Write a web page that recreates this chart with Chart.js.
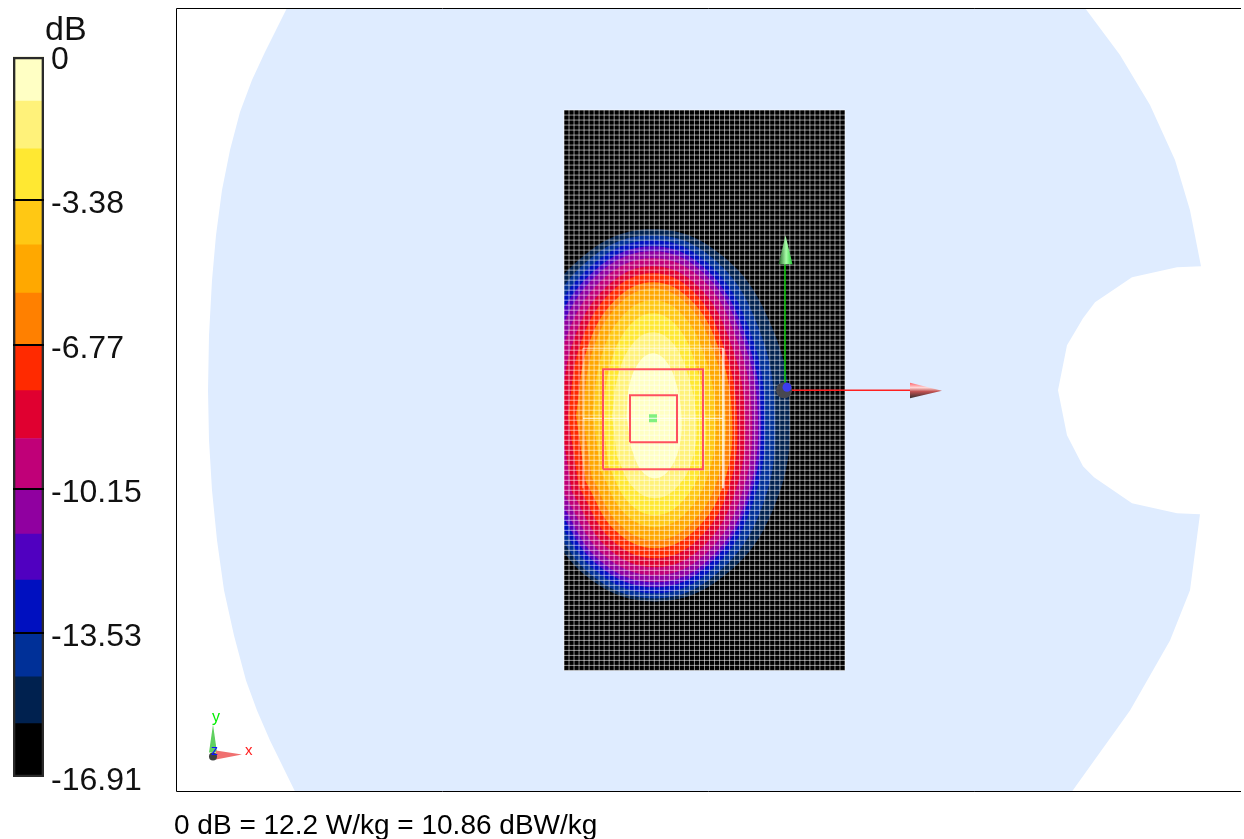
<!DOCTYPE html>
<html><head><meta charset="utf-8">
<script src="https://cdn.jsdelivr.net/npm/chart.js@4/dist/chart.umd.min.js"></script>
<style>
html,body{margin:0;padding:0;background:#fff;width:1244px;height:839px;overflow:hidden}
canvas{position:absolute;left:0;top:0}
.t{position:absolute;font-family:"Liberation Sans",Arial,sans-serif;white-space:nowrap;line-height:1}
</style></head><body>
<canvas id="map" width="1244" height="839"></canvas>
<canvas id="bar" width="176" height="792"></canvas>
<div class="t" style="left:45px;top:11px;font-size:34px;color:#111">dB</div>
<div class="t" style="left:174px;top:811px;font-size:28px;color:#000">0 dB = 12.2 W/kg = 10.86 dBW/kg</div>
<div class="t" style="left:212px;top:709px;font-size:16px;color:#00ee00">y</div>
<div class="t" style="left:245px;top:742px;font-size:15px;color:#ff2020">x</div>
<div class="t" style="left:211px;top:743px;font-size:14px;color:#1010ff">z</div>
<script>
// colour bar: dB levels and band edges
const tickValues = [0, -3.38, -6.77, -10.15, -13.53, -16.91];
const tickLabels = ['0', '-3.38', '-6.77', '-10.15', '-13.53', '-16.91'];
const bandEdges = [0, -1.06, -2.18, -3.38, -4.43, -5.56, -6.77, -7.85, -8.97, -10.15, -11.21, -12.29, -13.53, -14.56, -15.66, -16.91];
const bandColors = ['#ffffc4','#fff27a','#ffe832','#ffc814','#ffa800','#ff8000','#ff2a00','#e00030','#c00078','#9000a0','#5000c0','#0010c0','#003098','#00214f','#000000'];

// field map, in grid units with the origin at the lower-left corner of the scan grid
const phantomOutline = [[-277,662],[-288,640],[-299,618],[-312,590],[-324,558],[-334,520],[-342,480],[-348,435],[-352,390],[-355,335],[-356,280],[-355,230],[-352,180],[-347,130],[-340,80],[-330,35],[-318,-10],[-307,-40],[-294,-70],[-269,-121],[508,-121],[566,-40],[606,30],[626,80],[636,156],[613,157],[568,167],[530,193],[519,204],[503,235],[494,280],[503,325],[519,352],[531,368],[568,393],[613,403],[637,404],[626,460],[611,510],[586,565],[556,615],[521,662]];
const scanGrid = [[0,0],[281,0],[281,560],[0,560]];
const edgeStrip = [[-70,30],[0,30],[0,500],[-70,500]];
const contour14 = [[-46,255],[-27.9,348],[21.5,416],[89,441],[156.5,416],[205.9,348],[226,255],[209.6,162],[159.5,94],[91,69],[22.5,94],[-27.6,162]];
const contour13 = [[-38,253.5],[-21,344],[25.5,411],[89,435],[150,411],[194,344],[211,253.5],[198,163],[152,96],[91,72],[26.5,96],[-20.7,163]];
const contour12 = [[-31,253.5],[-15,342],[29,406],[89,430],[145,406],[185,342],[201,253.5],[188,165],[148,101],[91,77],[30,101],[-14.7,165]];
const contour11 = [[-25,253.5],[-9.7,339],[32,401],[89,424],[142,401],[180,339],[197,253.5],[184,168],[145,106],[91,83],[33,106],[-9.5,168]];
const contour10 = [[-19.5,253.5],[-4.5,336],[35,397],[89,419],[140,397],[177,336],[194,253.5],[182,171],[144,110],[91,88],[35.5,110],[-5,171]];
const contour9 = [[-12,253.5],[2.4,333],[39,391],[89,412],[138,391],[172,333],[188,253.5],[177,174],[141,116],[91,95],[39,116],[1,174]];
const contour8 = [[-4,253.5],[9.3,329],[43,384],[89,404],[134,384],[166,329],[181,253.5],[171,178],[138,123],[91,103],[43,123],[8,178]];
const contour7 = [[4,254.5],[16.3,326],[47,378],[89,397],[130,378],[159,326],[173,254.5],[165,183],[134,131],[91,112],[47,131],[14.8,183]];
const contour6 = [[12,255],[23.2,321.5],[51,370],[89,388],[127,370],[154.8,321.5],[168,255],[160.3,188.5],[131,140],[91,122],[51,140],[21.7,188.5]];
const contour5 = [[18.5,256],[28.4,319],[54,365],[89,382],[124,365],[149.6,319],[161.5,256],[154.2,193],[127.5,147],[91,130],[54.5,147],[27.8,193]];
const contour4 = [[28.5,256.5],[37,313],[59,355],[89,370],[119,355],[141,313],[151.5,256.5],[145.6,200],[122.5,158],[91,143],[59.5,158],[36.4,200]];
const contour3 = [[38.5,256],[46.6,306.5],[64.5,343.5],[89,357],[113.5,343.5],[131.4,306.5],[141.5,256],[137.8,205.5],[118,168.5],[91,155],[64,168.5],[44.2,205.5]];
const contour2 = [[48,255],[54.4,296.5],[69,327],[89,338],[109,327],[123.6,296.5],[132,255],[129.1,213.5],[113,183],[91,172],[69,183],[52.9,213.5]];
const contour1 = [[62.5,254.5],[65.6,286],[75.5,308.6],[89,317],[102.5,308.6],[112.4,286],[117.5,254.5],[115.2,223],[105,200.4],[91,192],[77,200.4],[66.8,223]];
const contours = [contour14,contour13,contour12,contour11,contour10,contour9,contour8,contour7,contour6,contour5,contour4,contour3,contour2,contour1];
const contourColors = bandColors.slice(0,14).reverse();
const gridColumns = 56, gridRows = 112;
const coarseBox = [[19,182],[19,322],[159,322],[159,182]];
const coarseCentre = [[19,252],[159,252]];
const zoomOuter = [[39,201],[139,201],[139,301],[39,301],[39,201]];
const zoomInner = [[66,228],[113,228],[113,275],[66,275],[66,228]];
const peakCell = [[85,248],[93,248],[93,256],[85,256]];
const axisY = [[221,280],[221,406]];
const axisX = [[221,280],[346,280]];
const coneY = [[214.5,406],[228.5,406],[221.5,435]];
const coneX = [[346,287.5],[346,272],[378,279.5]];
const originPoint = [[220,280]];
const originCap = [[223,283]];
const triadConeY = [[-355,-82],[-347,-82],[-351,-54]];
const triadConeX = [[-348,-80],[-348,-89],[-322,-84]];
const triadOrigin = [[-351,-86]];
const frame = [[677,-121],[-387.5,-121],[-387.5,661.5],[677,661.5]];

const xyOf = p => ({x:p[0], y:p[1]});
const mapCtx = document.getElementById('map').getContext('2d');
const gradY = mapCtx.createLinearGradient(779,0,792,0);
gradY.addColorStop(0,'#2a6a30'); gradY.addColorStop(.55,'#a8ffa8'); gradY.addColorStop(1,'#30d040');
const gradX = mapCtx.createLinearGradient(0,382,0,398);
gradX.addColorStop(0,'#ff5058'); gradX.addColorStop(.35,'#ffd8d8'); gradX.addColorStop(.6,'#c05050'); gradX.addColorStop(1,'#383030');

let rank = 1000;
const ds = [];
function area(points, color, tension){
  ds.push({data:points.map(xyOf), showLine:true, fill:'shape', backgroundColor:color, borderWidth:0, borderColor:'transparent', pointRadius:0, tension:tension||0, order:rank--});
}
function stroke(points, color, width, clip){
  ds.push({data:points.map(xyOf), showLine:true, fill:false, borderColor:color, borderWidth:width, pointRadius:0, tension:0, order:rank--, clip:clip===undefined?0:clip, spanGaps:false});
}
function dot(points, color, radius){
  ds.push({data:points.map(xyOf), showLine:false, backgroundColor:color, borderWidth:0, pointRadius:radius, pointStyle:'circle', order:rank--});
}
area(phantomOutline,'#dfecff');
area(scanGrid,'#000000');
contours.forEach((c,i)=>area(c,contourColors[i],0.4));
area(edgeStrip,'#dfecff');
const gridPath = [];
const cell = 281/gridColumns;
for(let i=0;i<=gridColumns;i++){ gridPath.push([i*cell,0],[i*cell,560],[NaN,NaN]); }
for(let j=0;j<=gridRows;j++){ gridPath.push([0,j*5],[281,j*5],[NaN,NaN]); }
stroke(gridPath,'rgba(255,255,255,0.55)',1);
stroke(coarseBox,'rgba(255,255,255,0.7)',1);
area(peakCell,'#80f080');
stroke(coarseCentre,'rgba(255,255,255,0.95)',1);
stroke(zoomOuter,'#ff5060',2);
stroke(zoomInner,'#ff5060',2);
stroke(axisY,'#00c000',1.5);
stroke(axisX,'#ff2020',1.5);
area(coneY,gradY);
area(coneX,gradX);
dot(originPoint,'#484850',8);
dot(originCap,'#3c3cf0',4.5);
area(triadConeY,'#60d060');
area(triadConeX,'#f07070');
dot(triadOrigin,'#404040',4);
stroke(frame,'#000000',1,false);

new Chart(mapCtx,{
  type:'scatter',
  data:{datasets:ds},
  options:{
    responsive:false, animation:false, devicePixelRatio:1, events:[],
    layout:{autoPadding:false,padding:{left:176.5,right:3,top:8.5,bottom:47.5}},
    plugins:{legend:{display:false},tooltip:{enabled:false}},
    scales:{
      x:{type:'linear',display:false,min:-387.5,max:677},
      y:{type:'linear',display:false,min:-121,max:661.5}
    }
  }
});

const barSets = bandColors.map((c,i)=>({data:[[bandEdges[i+1],bandEdges[i]]],backgroundColor:c,borderWidth:0,barPercentage:1,categoryPercentage:1,order:20-i}));
barSets.push({data:[[bandEdges[15],bandEdges[0]]],backgroundColor:'transparent',borderColor:'#2a2a2a',borderWidth:2,borderSkipped:false,barPercentage:1,categoryPercentage:1,order:0});
new Chart(document.getElementById('bar').getContext('2d'),{
  type:'bar',
  data:{labels:['dB'],datasets:barSets},
  options:{
    responsive:false, animation:false, devicePixelRatio:1, events:[],
    layout:{autoPadding:false,padding:{left:13,right:0,top:56,bottom:15}},
    plugins:{legend:{display:false},tooltip:{enabled:false}},
    datasets:{bar:{grouped:false}},
    scales:{
      x:{display:false},
      y:{position:'right',min:-16.91,max:0,
        afterBuildTicks:s=>{s.ticks=tickValues.map(v=>({value:v}));},
        afterFit:s=>{s.width=132;s.paddingTop=0;s.paddingBottom=0;},
        border:{display:false},
        grid:{color:c=>(c.tick&&(c.tick.value===0||c.tick.value===-16.91))?'transparent':'#000',lineWidth:2,drawTicks:false,z:1},
        ticks:{autoSkip:false,padding:7,color:'#111',labelOffset:4.5,
          font:{family:'"Liberation Sans",Arial,sans-serif',size:32},
          callback:v=>tickLabels[tickValues.indexOf(v)]}
      }
    }
  }
});
</script>
</body></html>
